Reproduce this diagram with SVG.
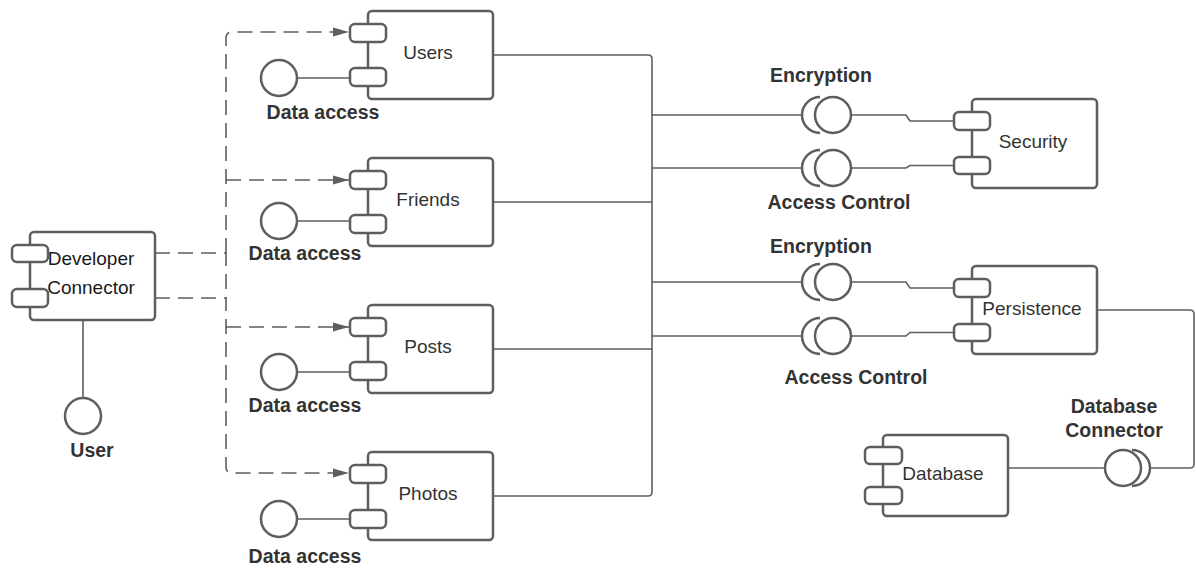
<svg xmlns="http://www.w3.org/2000/svg" width="1196" height="570" viewBox="0 0 1196 570">
<style>
.box{fill:#fff;stroke:#5e5e5e;stroke-width:2.5}
.port{fill:#fff;stroke:#5e5e5e;stroke-width:2.5}
.ln{fill:none;stroke:#5e5e5e;stroke-width:1.6}
.dash{fill:none;stroke:#5e5e5e;stroke-width:1.6;stroke-dasharray:15 8}
.sock{fill:none;stroke:#5e5e5e;stroke-width:2.5}
.ball{fill:#fff;stroke:#5e5e5e;stroke-width:2.5}
.lbl{font-family:"Liberation Sans",Arial,sans-serif;font-size:19px;fill:#333;text-anchor:middle}
.blbl{font-family:"Liberation Sans",Arial,sans-serif;font-size:19.5px;font-weight:bold;fill:#333;text-anchor:middle}
</style>
<defs>
<marker id="arr" markerUnits="userSpaceOnUse" markerWidth="18" markerHeight="12" refX="16" refY="5" orient="auto">
<path d="M0,0.5 L16,5 L0,9.5 Z" fill="#5e5e5e"/>
</marker>
</defs>
<g id="connectors">
<path class="dash" d="M226,253 V38 Q226,32 232,32 H349" marker-end="url(#arr)"/>
<path class="dash" d="M155,253 H226 V298" />
<path class="dash" d="M226,180 H349" marker-end="url(#arr)"/>
<path class="dash" d="M155,298 H226 V467 Q226,473 232,473 H349" marker-end="url(#arr)"/>
<path class="dash" d="M226,327 H349" marker-end="url(#arr)"/>
<path class="ln" d="M83,320 V398"/>
<path class="ln" d="M297,78 H350"/>
<path class="ln" d="M297,221 H350"/>
<path class="ln" d="M297,372 H350"/>
<path class="ln" d="M297,519 H350"/>
<path class="ln" d="M493,55 H648 Q652,55 652,59 V492 Q652,496 648,496 H493"/>
<path class="ln" d="M493,202 H652"/>
<path class="ln" d="M493,349 H652"/>
<path class="ln" d="M652,115 H802"/>
<path class="ln" d="M652,168 H802"/>
<path class="ln" d="M652,282 H802"/>
<path class="ln" d="M652,336 H802"/>
<path class="ln" d="M851,115 H906 L910,121 H954"/>
<path class="ln" d="M851,168 H906 L910,165.5 H954"/>
<path class="ln" d="M851,282 H906 L910,288 H954"/>
<path class="ln" d="M851,336 H906 L910,332.5 H954"/>
<path class="ln" d="M1008,468 H1105"/>
<path class="ln" d="M1150,468 H1190 Q1194,468 1194,464 V314 Q1194,310 1190,310 H1097"/>
</g>
<g id="sockets">
<path class="sock" d="M820,97 A18,18 0 0,0 820,133"/>
<circle class="ball" cx="833" cy="115" r="18"/>
<path class="sock" d="M820,150 A18,18 0 0,0 820,186"/>
<circle class="ball" cx="833" cy="168" r="18"/>
<path class="sock" d="M820,264 A18,18 0 0,0 820,300"/>
<circle class="ball" cx="833" cy="282" r="18"/>
<path class="sock" d="M820,318 A18,18 0 0,0 820,354"/>
<circle class="ball" cx="833" cy="336" r="18"/>
<path class="sock" d="M1132,450 A18,18 0 0,1 1132,486"/>
<circle class="ball" cx="1123" cy="468" r="18"/>
<text class="blbl" x="821" y="82">Encryption</text>
<text class="blbl" x="839" y="209">Access Control</text>
<text class="blbl" x="821" y="253">Encryption</text>
<text class="blbl" x="856" y="384">Access Control</text>
<text class="blbl" x="1114" y="413">Database</text>
<text class="blbl" x="1114" y="437">Connector</text>
</g>
<g id="developer-connector">
<rect class="box" x="30" y="232" width="125" height="88" rx="4"/>
<rect class="port" x="12" y="245" width="36" height="17" rx="5"/>
<rect class="port" x="12" y="289" width="36" height="18" rx="5"/>
<text class="lbl" x="91" y="265" style="fill:#1a1a1a">Developer</text>
<text class="lbl" x="91" y="294" style="fill:#1a1a1a">Connector</text>
</g>
<g id="user">
<circle class="ball" cx="83" cy="416" r="18"/>
<text class="blbl" x="92" y="457">User</text>
</g>
<g id="users">
<rect class="box" x="368" y="11" width="125" height="88" rx="4"/>
<rect class="port" x="350" y="24" width="36" height="18" rx="5"/>
<rect class="port" x="350" y="68" width="36" height="18" rx="5"/>
<text class="lbl" x="428" y="59">Users</text>
<circle class="ball" cx="279" cy="78" r="18"/>
<text class="blbl" x="323" y="119">Data access</text>
</g>
<g id="friends">
<rect class="box" x="368" y="158" width="125" height="88" rx="4"/>
<rect class="port" x="350" y="171" width="36" height="18" rx="5"/>
<rect class="port" x="350" y="215" width="36" height="18" rx="5"/>
<text class="lbl" x="428" y="206">Friends</text>
<circle class="ball" cx="279" cy="221" r="18"/>
<text class="blbl" x="305" y="260">Data access</text>
</g>
<g id="posts">
<rect class="box" x="368" y="305" width="125" height="88" rx="4"/>
<rect class="port" x="350" y="318" width="36" height="18" rx="5"/>
<rect class="port" x="350" y="362" width="36" height="18" rx="5"/>
<text class="lbl" x="428" y="353">Posts</text>
<circle class="ball" cx="279" cy="372" r="18"/>
<text class="blbl" x="305" y="412">Data access</text>
</g>
<g id="photos">
<rect class="box" x="368" y="452" width="125" height="88" rx="4"/>
<rect class="port" x="350" y="465" width="36" height="18" rx="5"/>
<rect class="port" x="350" y="510" width="36" height="18" rx="5"/>
<text class="lbl" x="428" y="500">Photos</text>
<circle class="ball" cx="279" cy="519" r="18"/>
<text class="blbl" x="305" y="563">Data access</text>
</g>
<g id="security">
<rect class="box" x="972" y="99" width="125" height="89" rx="4"/>
<rect class="port" x="954" y="112" width="36" height="18" rx="5"/>
<rect class="port" x="954" y="157" width="36" height="17" rx="5"/>
<text class="lbl" x="1033" y="148">Security</text>
</g>
<g id="persistence">
<rect class="box" x="972" y="266" width="125" height="88" rx="4"/>
<rect class="port" x="954" y="279" width="36" height="18" rx="5"/>
<rect class="port" x="954" y="324" width="36" height="17" rx="5"/>
<text class="lbl" x="1032" y="315">Persistence</text>
</g>
<g id="database">
<rect class="box" x="883" y="435" width="125" height="81" rx="4"/>
<rect class="port" x="865" y="447" width="37" height="17" rx="5"/>
<rect class="port" x="865" y="487" width="37" height="17" rx="5"/>
<text class="lbl" x="943" y="480">Database</text>
</g>
</svg>
